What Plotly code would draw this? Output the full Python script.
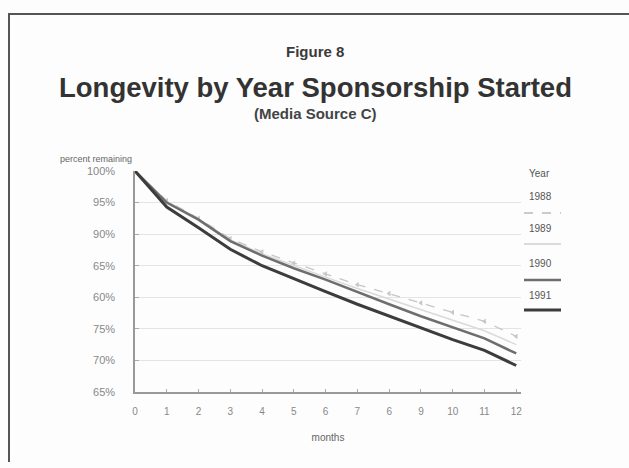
import plotly.graph_objects as go

months = list(range(13))
y1988 = [100, 95.3, 92.5, 89.3, 87.2, 85.4, 83.7, 82.0, 80.6, 79.1, 77.6, 76.2, 73.8]
y1989 = [100, 95.2, 92.4, 89.1, 86.9, 85.0, 83.2, 81.4, 79.7, 78.0, 76.3, 74.7, 72.5]
y1990 = [100, 95.0, 92.3, 88.9, 86.6, 84.6, 82.8, 80.8, 78.9, 77.0, 75.2, 73.5, 71.1]
y1991 = [100, 94.3, 91.0, 87.6, 85.0, 82.9, 80.9, 78.9, 77.0, 75.2, 73.3, 71.6, 69.2]

x_tick_labels = ["0", "1", "2", "3", "4", "5", "6", "7", "6", "9", "10", "11", "12"]
y_tick_vals = [65, 70, 75, 80, 85, 90, 95, 100]
y_tick_labels = ["65%", "70%", "75%", "60%", "65%", "90%", "95%", "100%"]

W, H = 629, 468
L, R, T, B = 135, 108, 171, 76
PW, PH = W - L - R, H - T - B

def px(x):
    return (x - L) / PW

def py(y):
    return (H - B - y) / PH

FONT = "Liberation Sans, Arial, sans-serif"

fig = go.Figure()
fig.add_trace(go.Scatter(x=months, y=y1989, mode="lines", name="1989",
                         line=dict(color="#dadada", width=1.5)))
fig.add_trace(go.Scatter(x=months, y=y1988, mode="lines+markers", name="1988",
                         line=dict(color="#c6c6c6", width=1.3, dash="dash"),
                         marker=dict(symbol="triangle-left", size=5, color="#c6c6c6")))
fig.add_trace(go.Scatter(x=months, y=y1990, mode="lines", name="1990",
                         line=dict(color="#6e6e6e", width=2.5)))
fig.add_trace(go.Scatter(x=months, y=y1991, mode="lines", name="1991",
                         line=dict(color="#3c3c3c", width=3)))

shapes = [
    dict(type="line", xref="paper", yref="paper", x0=px(8), x1=px(629), y0=py(14), y1=py(14),
         line=dict(color="#555555", width=2)),
    dict(type="line", xref="paper", yref="paper", x0=px(9), x1=px(9), y0=py(14), y1=py(462),
         line=dict(color="#555555", width=2)),
]
legend_items = [
    ("1988", 196, 213, dict(color="#bbbbbb", width=1.5, dash="dash")),
    ("1989", 228, 244, dict(color="#cfcfcf", width=1.5)),
    ("1990", 263, 280, dict(color="#6e6e6e", width=2.5)),
    ("1991", 295, 310, dict(color="#3c3c3c", width=3)),
]

def ann(text, x, y, size, color, xanchor="center"):
    return dict(text=text, x=px(x), y=py(y), xref="paper", yref="paper",
                xanchor=xanchor, yanchor="middle", showarrow=False,
                font=dict(size=size, color=color, family=FONT))

annotations = [
    ann("<b>Figure 8</b>", 315, 52, 15, "#3a3a3a"),
    ann("<b>Longevity by Year Sponsorship Started</b>", 315, 87, 27.5, "#333333"),
    ann("<b>(Media Source C)</b>", 315, 113, 15, "#444444"),
    ann("percent remaining", 58, 159, 9, "#666666", "left"),
    ann("Year", 527, 173, 10, "#555555", "left"),
]
for name, ty, ly, ln in legend_items:
    annotations.append(ann(name, 527, ty, 10, "#555555", "left"))
    shapes.append(dict(type="line", xref="paper", yref="paper", x0=px(524), x1=px(561),
                       y0=py(ly), y1=py(ly), line=ln))

fig.update_layout(
    width=W, height=H,
    margin=dict(l=L, r=R, t=T, b=B),
    paper_bgcolor="#fdfdfd", plot_bgcolor="#fdfdfd",
    showlegend=False,
    font=dict(family=FONT, color="#777777", size=10),
    shapes=shapes, annotations=annotations,
    xaxis=dict(range=[0, 12.15], tickmode="array", tickvals=months, ticktext=x_tick_labels,
               showgrid=False, zeroline=False, showline=True, linecolor="#999999", linewidth=1.5,
               ticks="inside", ticklen=3, tickcolor="#aaaaaa", ticklabelstandoff=9,
               title=dict(text="months", font=dict(size=10, color="#666666"), standoff=18),
               tickfont=dict(size=10, color="#888888")),
    yaxis=dict(range=[65, 100], tickmode="array", tickvals=y_tick_vals, ticktext=y_tick_labels,
               showgrid=True, gridcolor="#e4e4e4", gridwidth=1, zeroline=False,
               showline=True, linecolor="#999999", linewidth=1.5,
               ticks="inside", ticklen=4, tickcolor="#aaaaaa", ticklabelstandoff=16,
               tickfont=dict(size=11, color="#888888")),
)

fig.write_html("out.html")
